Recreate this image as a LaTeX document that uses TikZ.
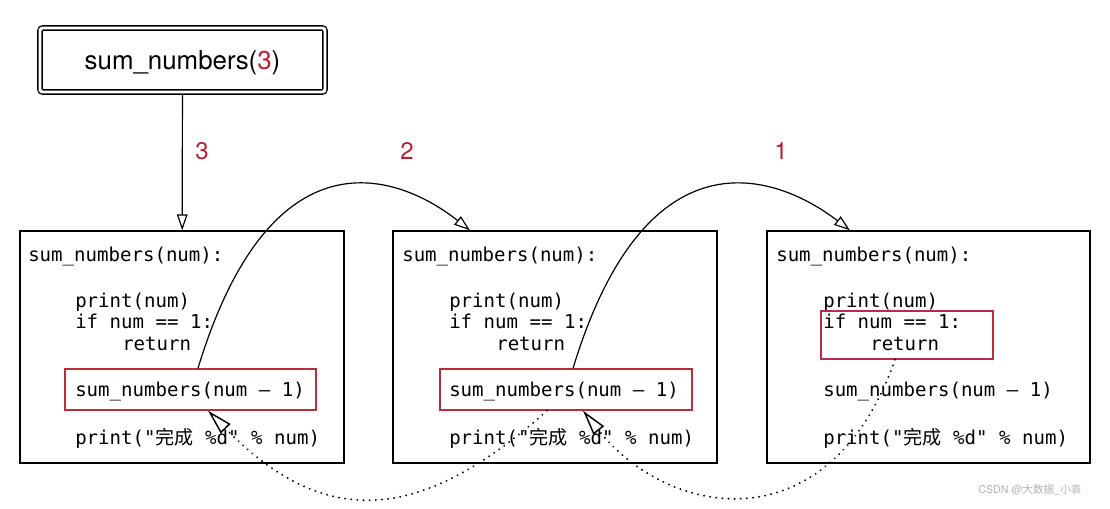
\documentclass[tikz,border=0pt]{standalone}
\usepackage{fontspec}
\usepackage{xcolor}
\usetikzlibrary{arrows.meta,fit,calc}
\newfontfamily\codefont{DejaVu Sans Mono}
\newfontfamily\cjkfont{Noto Sans CJK SC}
\newfontfamily\labelfont{TeX Gyre Heros}
\definecolor{numred}{RGB}{178,34,52}
\definecolor{boxred}{RGB}{188,44,64}

\begin{document}
\begin{tikzpicture}[
    x=0.75pt, y=-0.75pt,
    callerbox/.style={draw, double, double distance=2.2pt, line width=1pt,
                      rounded corners=2pt, minimum width=213.75pt, minimum height=48pt,
                      inner sep=0pt, outer sep=2.1pt, text depth=0pt,
                      font=\labelfont\fontsize{19.4}{22}\selectfont},
    codeframe/.style={draw, line width=1pt, inner sep=0pt},
    callbox/.style={draw=boxred, line width=1pt, inner sep=0pt},
    codeline/.style={anchor=base west, inner sep=0pt,
                     font=\codefont\fontsize{14.3}{17}\selectfont},
    numlbl/.style={text=numred, font=\labelfont\fontsize{18}{20}\selectfont},
    wmark/.style={text=black!30, font=\labelfont\fontsize{8}{9}\selectfont},
    callarrow/.style={-{Triangle[open, length=12pt, width=8pt]}, line width=0.9pt},
    retarrow/.style={-{Triangle[open, length=19pt, width=10pt, line width=1.1pt]}, line width=1.6pt,
                     dash pattern=on 0.01pt off 4.6pt, line cap=round}
]
\useasboundingbox (0,0) rectangle (1110,508);

%% ── Caller ───────────────────────────────────────────────────────
\node[callerbox] (top) at (182.5,60) {sum\_numbers(\textcolor{numred}{3})};

%% ── Frames ───────────────────────────────────────────────────────
\node[codeframe, fit={(20,231) (344,463)}]  (f1) {};
\node[codeframe, fit={(393,231) (717,463)}] (f2) {};
\node[codeframe, fit={(767,231) (1090,463)}] (f3) {};

%% ── Code, frame 1 ────────────────────────────────────────────────
\node[codeline] (hd1)   at (28,261)  {sum\_numbers(num):};
\node[codeline] (pr1)   at (75,307)  {print(num)};
\node[codeline] (if1)   at (75,328)  {if num == 1:};
\node[codeline] (ret1)  at (122,350) {return};
\node[codeline] (call1) at (75,396)  {sum\_numbers(num – 1)};
\node[codeline] (done1) at (75,444)  {print("{\cjkfont 完成} \%d" \% num)};

%% ── Code, frame 2 ────────────────────────────────────────────────
\node[codeline] (hd2)   at (402,261) {sum\_numbers(num):};
\node[codeline] (pr2)   at (449,307) {print(num)};
\node[codeline] (if2)   at (449,328) {if num == 1:};
\node[codeline] (ret2)  at (496,350) {return};
\node[codeline] (call2) at (449,396) {sum\_numbers(num – 1)};
\node[codeline] (done2) at (449,444) {print("{\cjkfont 完成} \%d" \% num)};

%% ── Code, frame 3 ────────────────────────────────────────────────
\node[codeline] (hd3)   at (776,261) {sum\_numbers(num):};
\node[codeline] (pr3)   at (823,307) {print(num)};
\node[codeline] (if3)   at (823,328) {if num == 1:};
\node[codeline] (ret3)  at (870,350) {return};
\node[codeline] (call3) at (823,396) {sum\_numbers(num – 1)};
\node[codeline] (done3) at (823,444) {print("{\cjkfont 完成} \%d" \% num)};

%% ── Highlights ───────────────────────────────────────────────────
\node[callbox, fit={(65,369) (316,410)}]  (rc1) {};
\node[callbox, fit={(440,369) (692,410)}] (rc2) {};
\node[callbox, fit={(821,311) (993,359)}] (rc3) {};

%% ── Argument labels ──────────────────────────────────────────────
\node[numlbl] (n3) at (202,151) {3};
\node[numlbl] (n2) at (407,151) {2};
\node[numlbl] (n1) at (781,151) {1};

%% ── Calls ────────────────────────────────────────────────────────
\draw[callarrow] (top) -- (f1);
\draw[callarrow] ([xshift=5.6pt]rc1.north) .. controls (272,125) and (400,175) .. ([xshift=-63.75pt]f2.north);
\draw[callarrow] ([xshift=5.25pt]rc2.north) .. controls (647,125) and (778,175) .. ([xshift=-58.9pt]f3.north);

%% ── Returns ──────────────────────────────────────────────────────
\draw[retarrow] ([xshift=-14.25pt]rc2.south) .. controls (417,527) and (322,527) .. ([xshift=13.1pt]rc1.south);
\draw[retarrow] ([xshift=-9pt]rc3.south) .. controls (830,545) and (670,520) .. ([xshift=12.75pt]rc2.south);

\node[wmark] (wm) at (1030,490) {CSDN @{\cjkfont 大数据}\_{\cjkfont 小袁}};
\end{tikzpicture}
\end{document}
